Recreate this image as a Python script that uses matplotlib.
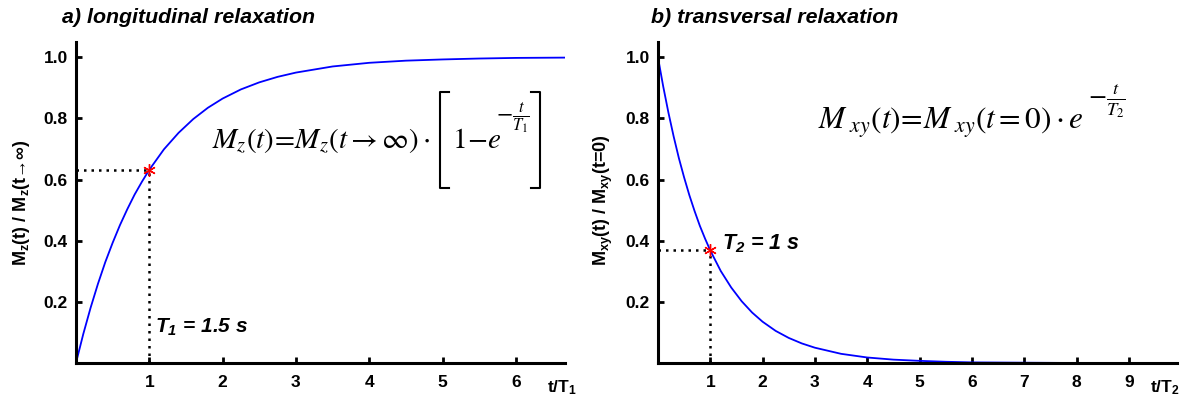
import matplotlib
matplotlib.use("Agg")
import matplotlib.pyplot as plt
from matplotlib.lines import Line2D

plt.rcParams['font.family'] = ['Liberation Sans', 'DejaVu Sans']
plt.rcParams['mathtext.fontset'] = 'custom'
plt.rcParams['mathtext.rm'] = 'Liberation Sans'
plt.rcParams['mathtext.bf'] = 'Liberation Sans:bold'
plt.rcParams['mathtext.bfit'] = 'Liberation Sans:bold:italic'
plt.rcParams['mathtext.it'] = 'Liberation Sans:italic'

# longitudinal relaxation (t/T1 vs Mz/Mz_inf)
t_long = [0, 0.1, 0.2, 0.3, 0.4, 0.5, 0.6, 0.7, 0.8, 0.9, 1.0, 1.2, 1.4, 1.6, 1.8,
          2.0, 2.25, 2.5, 2.75, 3.0, 3.5, 4.0, 4.5, 5.0, 5.5, 6.0, 6.67]
m_long = [0.0, 0.095, 0.181, 0.259, 0.330, 0.393, 0.451, 0.503, 0.551, 0.593, 0.632,
          0.699, 0.753, 0.798, 0.835, 0.865, 0.895, 0.918, 0.936, 0.950, 0.970,
          0.982, 0.989, 0.993, 0.996, 0.998, 0.999]

# transversal relaxation (t/T2 vs Mxy/Mxy0)
t_trans = [0, 0.1, 0.2, 0.3, 0.4, 0.5, 0.6, 0.7, 0.8, 0.9, 1.0, 1.2, 1.4, 1.6, 1.8,
           2.0, 2.25, 2.5, 2.75, 3.0, 3.5, 4.0, 4.5, 5.0, 5.5, 6.0, 7.0, 8.0, 9.0, 10.0]
m_trans = [1.0, 0.905, 0.819, 0.741, 0.670, 0.607, 0.549, 0.497, 0.449, 0.407, 0.368,
           0.301, 0.247, 0.202, 0.165, 0.135, 0.105, 0.082, 0.064, 0.050, 0.030,
           0.018, 0.011, 0.007, 0.004, 0.002, 0.001, 0.0, 0.0, 0.0]

pt_long = (1.0, 0.632)
pt_trans = (1.0, 0.368)

xt_long = [1, 2, 3, 4, 5, 6]
xt_trans = [1, 2, 3, 4, 5, 6, 7, 8, 9]
yt = [0.2, 0.4, 0.6, 0.8, 1.0]
ytl = ['0.2', '0.4', '0.6', '0.8', '1.0']

W, H = 1200, 404
fig = plt.figure(figsize=(12, 4.04), dpi=100)
ax1 = fig.add_axes([0.0633, 0.1015, 0.4075, 0.7945])
ax2 = fig.add_axes([0.5483, 0.1015, 0.4325, 0.7945])


def px(x, y):
    # pixel position (from top-left) -> figure fraction
    return x / W, 1 - y / H


def style(ax, xmax, xt):
    ax.set_xlim(0, xmax)
    ax.set_ylim(0, 1.05)
    for s in ['top', 'right']:
        ax.spines[s].set_visible(False)
    for s in ['left', 'bottom']:
        ax.spines[s].set_linewidth(2.2)
        ax.spines[s].set_zorder(5)
    ax.set_xticks(xt)
    ax.set_xticklabels([str(v) for v in xt])
    ax.set_yticks(yt)
    ax.set_yticklabels(ytl)
    ax.tick_params(direction='in', length=4, width=2, labelsize=12.5)
    ax.tick_params(axis='x', pad=9)
    ax.tick_params(axis='y', pad=6)
    for lab in ax.get_xticklabels() + ax.get_yticklabels():
        lab.set_fontweight('bold')


for ax, t, m, pt, xmax, xt in [(ax1, t_long, m_long, pt_long, 6.67, xt_long),
                               (ax2, t_trans, m_trans, pt_trans, 9.92, xt_trans)]:
    ax.plot(t, m, color='#0000ff', lw=1.3, zorder=2)
    ax.plot([0, pt[0]], [pt[1], pt[1]], color='black', ls=(0, (1, 2)), lw=1.8, zorder=3)
    ax.plot([pt[0], pt[0]], [0, pt[1]], color='black', ls=(0, (1, 2)), lw=1.8, zorder=3)
    ax.plot([pt[0]], [pt[1]], marker=(6, 2, 0), color='red', ms=9, mew=1, zorder=4)
    style(ax, xmax, xt)

# titles
fig.text(*px(62, 23), 'a) longitudinal relaxation', fontsize=15.4, fontweight='bold',
         style='italic', ha='left', va='baseline')
fig.text(*px(651, 23), 'b) transversal relaxation', fontsize=15.4, fontweight='bold',
         style='italic', ha='left', va='baseline')

# axis labels
fig.text(*px(21, 203), r'M$_{\mathbf{z}}$(t) / M$_{\mathbf{z}}$(t→∞)', rotation=90,
         fontsize=13, fontweight='bold', ha='center', va='center')
fig.text(*px(603, 200), r'M$_{\mathbf{xy}}$(t) / M$_{\mathbf{xy}}$(t=0)', rotation=90,
         fontsize=13, fontweight='bold', ha='center', va='center')
fig.text(*px(547, 392), r't/T$_{\mathbf{1}}$', fontsize=12.5, fontweight='bold',
         ha='left', va='baseline')
fig.text(*px(1150, 392), r't/T$_{\mathbf{2}}$', fontsize=12.5, fontweight='bold',
         ha='left', va='baseline')

# annotations
fig.text(*px(155, 333), r'T$_{\mathbfit{1}}$ = 1.5 s', fontsize=15, fontweight='bold',
         style='italic', ha='left', va='baseline')
fig.text(*px(722, 249), r'T$_{\mathbfit{2}}$ = 1 s', fontsize=15.5, fontweight='bold',
         style='italic', ha='left', va='baseline')

# formula a)
fig.text(*px(212, 148),
         r'$M_z\left(t\right)\!=\!M_z\left(t\rightarrow\infty\right)\cdot$',
         fontsize=21, math_fontfamily='stix', ha='left', va='baseline')
fig.text(*px(452, 148), r'$1\!-\!e$', fontsize=21, math_fontfamily='stix',
         ha='left', va='baseline')
fig.text(*px(496, 118), r'$-\frac{t}{T_1}$', fontsize=17, math_fontfamily='stix',
         ha='left', va='center')
for xs in ([449, 440, 440, 449], [531, 540, 540, 531]):
    xf = [x / W for x in xs]
    yf = [1 - y / H for y in (92, 92, 188, 188)]
    fig.add_artist(Line2D(xf, yf, color='black', lw=1.5, transform=fig.transFigure))

# formula b)
fig.text(*px(818, 130),
         r'$M_{\ xy}\left(t\right)\!=\!M_{\ xy}\left(t=0\right)\cdot e$',
         fontsize=22.5, math_fontfamily='stix', ha='left', va='baseline')
fig.text(*px(1088, 101), r'$-\frac{t}{T_2}$', fontsize=19, math_fontfamily='stix',
         ha='left', va='center')

fig.savefig('out.png', dpi=100)
